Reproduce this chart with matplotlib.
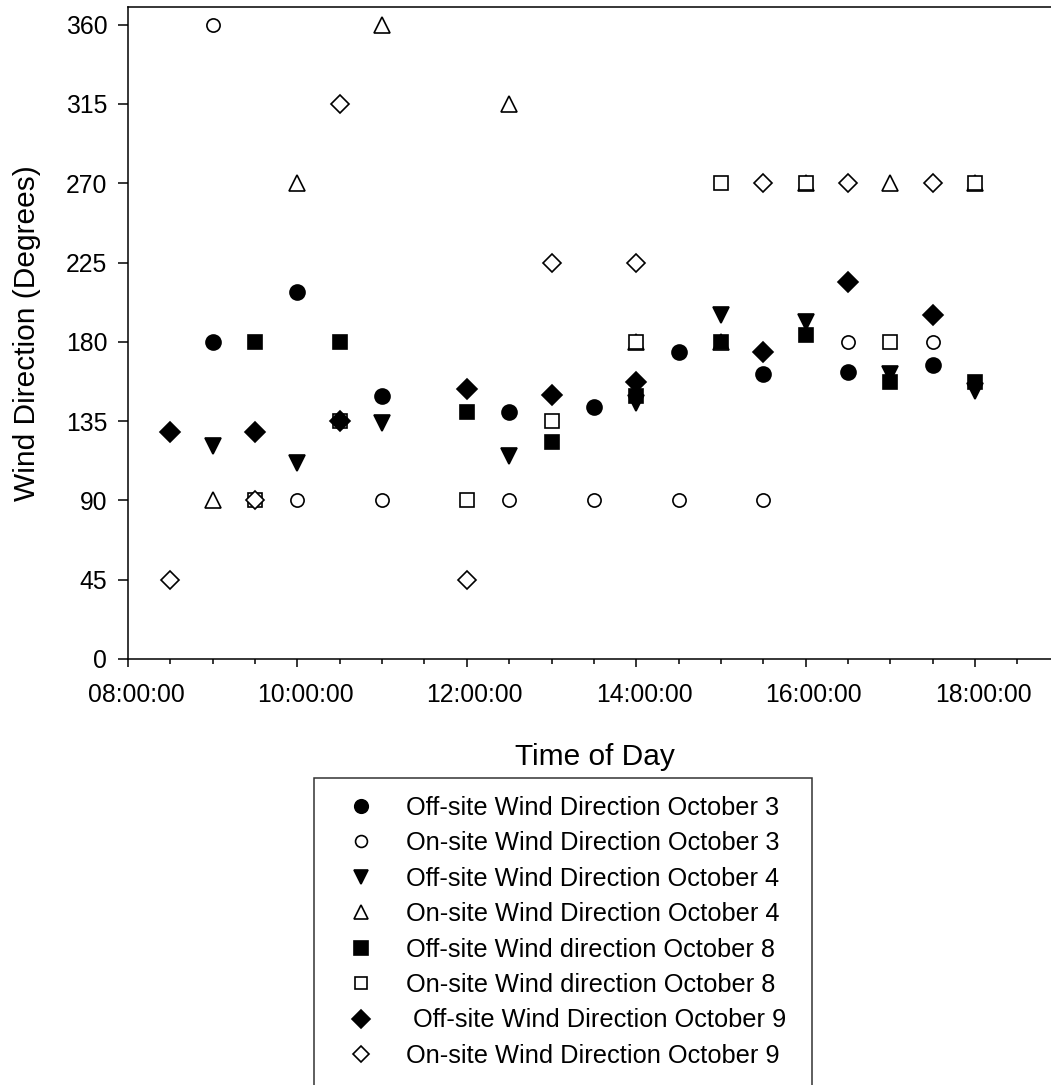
import matplotlib
matplotlib.use("Agg")
import matplotlib.pyplot as plt
import matplotlib.transforms as mtransforms
from matplotlib.ticker import FixedLocator, FuncFormatter

plt.rcParams['font.family'] = ['Liberation Sans', 'DejaVu Sans']

# sample times (hh:mm) and wind directions (degrees)
off_oct3_t = ["09:00", "10:00", "11:00", "12:30", "13:30", "14:30", "15:30", "16:30", "17:30"]
off_oct3 = [180, 208, 149, 140, 143, 174, 162, 163, 167]
on_oct3_t = ["09:00", "10:00", "11:00", "12:30", "13:30", "14:30", "15:30", "16:30", "17:30"]
on_oct3 = [360, 90, 90, 90, 90, 90, 90, 180, 180]

off_oct4_t = ["09:00", "10:00", "11:00", "12:30", "14:00", "15:00", "16:00", "17:00", "18:00"]
off_oct4 = [121, 111, 134, 115, 145, 195, 191, 162, 152]
on_oct4_t = ["09:00", "10:00", "11:00", "12:30", "14:00", "15:00", "16:00", "17:00", "18:00"]
on_oct4 = [90, 270, 360, 315, 180, 180, 270, 270, 270]

off_oct8_t = ["09:30", "10:30", "12:00", "13:00", "14:00", "15:00", "16:00", "17:00", "18:00"]
off_oct8 = [180, 180, 140, 123, 149, 180, 184, 157, 157]
on_oct8_t = ["09:30", "10:30", "12:00", "13:00", "14:00", "15:00", "16:00", "17:00", "18:00"]
on_oct8 = [90, 135, 90, 135, 180, 270, 270, 180, 270]

off_oct9_t = ["08:30", "09:30", "10:30", "12:00", "13:00", "14:00", "15:30", "16:30", "17:30"]
off_oct9 = [129, 129, 135, 153, 150, 157, 174, 214, 195]
on_oct9_t = ["08:30", "09:30", "10:30", "12:00", "13:00", "14:00", "15:30", "16:30", "17:30"]
on_oct9 = [45, 90, 315, 45, 225, 225, 270, 270, 270]

labels = [
    "Off-site Wind Direction October 3",
    "On-site Wind Direction October 3",
    "Off-site Wind Direction October 4",
    "On-site Wind Direction October 4",
    "Off-site Wind direction October 8",
    "On-site Wind direction October 8",
    " Off-site Wind Direction October 9",
    "On-site Wind Direction October 9",
]


def hours(times):
    return [int(t[:2]) + int(t[3:]) / 60 for t in times]


series = [
    (off_oct3_t, off_oct3, "o", True, 10.8),
    (on_oct3_t, on_oct3, "o", False, 9.5),
    (off_oct4_t, off_oct4, "v", True, 11.5),
    (on_oct4_t, on_oct4, "^", False, 11),
    (off_oct8_t, off_oct8, "s", True, 10.5),
    (on_oct8_t, on_oct8, "s", False, 9.8),
    (off_oct9_t, off_oct9, "D", True, 10.2),
    (on_oct9_t, on_oct9, "D", False, 9.6),
]

fig = plt.figure(figsize=(10.51, 10.85), dpi=100)
ax = fig.add_axes([128 / 1051, 1 - 659 / 1085, 931.7 / 1051, 652 / 1085])

handles = []
for i, (t, v, m, filled, ms) in enumerate(series):
    h, = ax.plot(hours(t), v, linestyle="none", marker=m, markersize=ms,
                 markerfacecolor="black" if filled else "white",
                 markeredgecolor="black", markeredgewidth=1.2, zorder=3 + i,
                 clip_on=False)
    handles.append(h)

ax.set_xlim(8, 19)
ax.set_ylim(0, 370)
ax.spines['right'].set_visible(False)
for s in ax.spines.values():
    s.set_linewidth(1.1)

ax.xaxis.set_major_locator(FixedLocator([8, 10, 12, 14, 16, 18]))
ax.xaxis.set_minor_locator(FixedLocator([8.5, 9, 9.5, 10.5, 11, 11.5, 12.5, 13, 13.5,
                                         14.5, 15, 15.5, 16.5, 17, 17.5, 18.5]))
ax.xaxis.set_major_formatter(FuncFormatter(lambda x, p: "%02d:00:00" % int(round(x))))
ax.set_yticks(range(0, 361, 45))

ax.tick_params(axis='x', which='major', direction='out', length=6, width=1.1,
               pad=11, labelsize=17.8)
ax.tick_params(axis='x', which='minor', direction='out', length=3.5, width=1.1)
ax.tick_params(axis='y', which='major', direction='out', length=7, width=1.1,
               pad=8, labelsize=17.8)
ax.tick_params(top=False, right=False)

shift = mtransforms.ScaledTranslation(8 / 100, 0, fig.dpi_scale_trans)
for lab in ax.get_xticklabels():
    lab.set_transform(lab.get_transform() + shift)

fig.text(595 / 1051, 1 - 765 / 1085, "Time of Day", ha="center", va="baseline",
         fontsize=21.5)
fig.text(27 / 1051, 1 - 333 / 1085, "Wind Direction (Degrees)", ha="center",
         va="center", rotation=90, fontsize=21.5)

leg = fig.legend(handles, labels, loc="upper left",
                 bbox_to_anchor=(314 / 1051, 1 - 778 / 1085, 498 / 1051, 0),
                 bbox_transform=fig.transFigure, mode="expand", fontsize=18.3,
                 frameon=True, fancybox=False, borderpad=0.7, handlelength=2.3,
                 handletextpad=0.6, labelspacing=0.45, borderaxespad=0)
leg.get_frame().set_edgecolor("black")
leg.get_frame().set_linewidth(1.1)
for lh in leg.legend_handles:
    lh.set_markersize(lh.get_markersize() * 0.9)

fig.savefig("out.png", dpi=100)
